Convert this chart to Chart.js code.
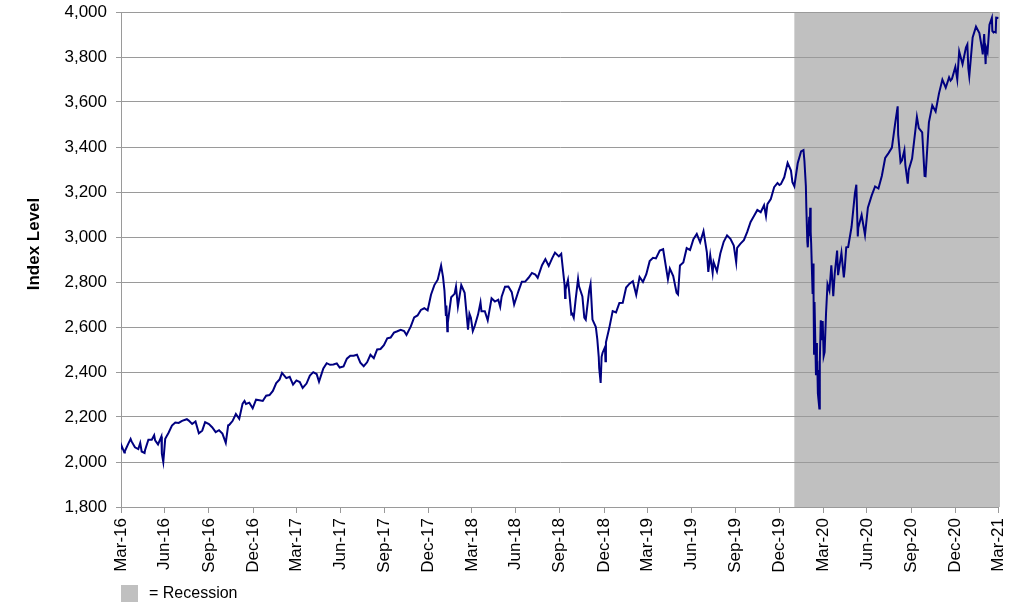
<!DOCTYPE html>
<html>
<head>
<meta charset="utf-8">
<title>Index Level</title>
<script src="https://cdn.jsdelivr.net/npm/chart.js@4.4.1/dist/chart.umd.min.js"></script>
<style>
  html, body { margin: 0; padding: 0; background: #fff; }
  canvas { display: block; }
</style>
</head>
<body>
<canvas id="chart" width="1024" height="616"></canvas>
<script>
// closing levels (weekly-ish, more points where it moves fast)
const dates = [
  '2016-03-31','2016-04-01','2016-04-07','2016-04-08','2016-04-15','2016-04-20','2016-04-22','2016-04-29',
  '2016-05-06','2016-05-10','2016-05-13','2016-05-19','2016-05-20','2016-05-27','2016-06-03','2016-06-08',
  '2016-06-10','2016-06-16','2016-06-23','2016-06-24','2016-06-27','2016-07-01','2016-07-08','2016-07-15',
  '2016-07-22','2016-07-29','2016-08-05','2016-08-15','2016-08-19','2016-08-26','2016-09-02','2016-09-09',
  '2016-09-16','2016-09-22','2016-09-30','2016-10-07','2016-10-14','2016-10-21','2016-10-28','2016-11-04',
  '2016-11-09','2016-11-11','2016-11-18','2016-11-25','2016-12-02','2016-12-09','2016-12-13','2016-12-16',
  '2016-12-23','2016-12-30',
  '2017-01-06','2017-01-13','2017-01-20','2017-01-27','2017-02-03','2017-02-10','2017-02-17','2017-02-24',
  '2017-03-01','2017-03-10','2017-03-17','2017-03-24','2017-03-31','2017-04-07','2017-04-13','2017-04-21',
  '2017-04-28','2017-05-05','2017-05-12','2017-05-17','2017-05-26','2017-06-02','2017-06-09','2017-06-16',
  '2017-06-23','2017-06-29','2017-07-07','2017-07-14','2017-07-21','2017-07-28','2017-08-04','2017-08-11',
  '2017-08-18','2017-08-25','2017-09-01','2017-09-08','2017-09-15','2017-09-22','2017-09-29','2017-10-06',
  '2017-10-13','2017-10-20','2017-10-27','2017-11-03','2017-11-10','2017-11-15','2017-11-24','2017-12-01',
  '2017-12-08','2017-12-15','2017-12-22','2017-12-29',
  '2018-01-05','2018-01-12','2018-01-19','2018-01-26','2018-01-30','2018-02-02','2018-02-05','2018-02-06',
  '2018-02-08','2018-02-09','2018-02-16','2018-02-23','2018-02-26','2018-03-02','2018-03-09','2018-03-16',
  '2018-03-23','2018-03-26','2018-03-29','2018-04-02','2018-04-06','2018-04-13','2018-04-18','2018-04-20',
  '2018-04-27','2018-05-03','2018-05-11','2018-05-18','2018-05-25','2018-05-29','2018-06-01','2018-06-08',
  '2018-06-15','2018-06-22','2018-06-27','2018-07-06','2018-07-13','2018-07-20','2018-07-27','2018-08-03',
  '2018-08-10','2018-08-15','2018-08-24','2018-08-31','2018-09-07','2018-09-14','2018-09-20','2018-09-28',
  '2018-10-03','2018-10-05','2018-10-10','2018-10-11','2018-10-12','2018-10-17','2018-10-19','2018-10-24',
  '2018-10-26','2018-10-29','2018-11-02','2018-11-07','2018-11-09','2018-11-16','2018-11-20','2018-11-23',
  '2018-11-30','2018-12-03','2018-12-07','2018-12-14','2018-12-17','2018-12-20','2018-12-21','2018-12-24',
  '2018-12-26','2018-12-28',
  '2019-01-02','2019-01-03','2019-01-04','2019-01-11','2019-01-18','2019-01-25','2019-02-01','2019-02-08',
  '2019-02-15','2019-02-22','2019-03-01','2019-03-08','2019-03-15','2019-03-22','2019-03-29','2019-04-05',
  '2019-04-12','2019-04-18','2019-04-26','2019-05-03','2019-05-13','2019-05-17','2019-05-24','2019-05-31',
  '2019-06-03','2019-06-07','2019-06-14','2019-06-21','2019-06-28','2019-07-05','2019-07-12','2019-07-19',
  '2019-07-26','2019-08-02','2019-08-05','2019-08-09','2019-08-14','2019-08-16','2019-08-23','2019-08-30',
  '2019-09-06','2019-09-13','2019-09-20','2019-09-27','2019-10-02','2019-10-04','2019-10-11','2019-10-18',
  '2019-10-25','2019-11-01','2019-11-08','2019-11-15','2019-11-22','2019-11-29','2019-12-03','2019-12-06',
  '2019-12-13','2019-12-20','2019-12-27','2019-12-31',
  '2020-01-03','2020-01-10','2020-01-17','2020-01-24','2020-01-27','2020-01-31','2020-02-07','2020-02-14',
  '2020-02-19','2020-02-21','2020-02-24','2020-02-25','2020-02-27','2020-02-28','2020-03-02','2020-03-03',
  '2020-03-04','2020-03-05','2020-03-06','2020-03-09','2020-03-10','2020-03-11','2020-03-12','2020-03-13',
  '2020-03-16','2020-03-17','2020-03-18','2020-03-19','2020-03-20','2020-03-23','2020-03-24','2020-03-26',
  '2020-03-27','2020-03-30','2020-04-01','2020-04-03','2020-04-06','2020-04-09','2020-04-13','2020-04-17',
  '2020-04-21','2020-04-24','2020-04-29','2020-05-01','2020-05-08','2020-05-13','2020-05-15','2020-05-18',
  '2020-05-22','2020-05-29','2020-06-05','2020-06-08','2020-06-11','2020-06-12','2020-06-19','2020-06-26',
  '2020-07-02','2020-07-10','2020-07-17','2020-07-24','2020-07-31','2020-08-07','2020-08-14','2020-08-21',
  '2020-08-28','2020-09-02','2020-09-03','2020-09-08','2020-09-11','2020-09-16','2020-09-18','2020-09-23',
  '2020-09-25','2020-10-02','2020-10-09','2020-10-12','2020-10-16','2020-10-23','2020-10-28','2020-10-30',
  '2020-11-04','2020-11-06','2020-11-13','2020-11-20','2020-11-27','2020-12-04','2020-12-11','2020-12-18',
  '2020-12-21','2020-12-24','2020-12-31',
  '2021-01-04','2021-01-08','2021-01-15','2021-01-22','2021-01-25','2021-01-27','2021-01-29','2021-02-05',
  '2021-02-12','2021-02-19','2021-02-25','2021-02-26','2021-03-01','2021-03-04','2021-03-05','2021-03-08',
  '2021-03-12','2021-03-17','2021-03-18','2021-03-19','2021-03-25','2021-03-26','2021-03-31'
];

const closes = [
  2059.74,2072.78,2041.91,2047.60,2080.73,2102.40,2091.58,2065.30,
  2057.14,2084.39,2046.61,2040.04,2052.32,2099.06,2099.13,2119.12,
  2096.07,2077.99,2113.32,2037.41,2000.54,2102.95,2129.90,2161.74,
  2175.03,2173.60,2182.87,2190.15,2183.87,2169.04,2179.98,2127.81,
  2139.16,2177.18,2168.27,2153.74,2132.98,2141.16,2126.41,2085.18,
  2163.26,2164.45,2181.90,2213.35,2191.95,2259.53,2271.72,2258.07,
  2263.79,2238.83,
  2276.98,2274.64,2271.31,2294.69,2297.42,2316.10,2351.16,2367.34,
  2395.96,2372.60,2378.25,2343.98,2362.72,2355.54,2328.95,2348.69,
  2384.20,2399.29,2390.90,2357.03,2415.82,2439.07,2431.77,2433.15,
  2438.30,2419.70,2425.18,2459.27,2472.54,2472.10,2476.83,2441.32,
  2425.55,2443.05,2476.55,2461.43,2500.23,2502.22,2519.36,2549.33,
  2553.17,2575.21,2581.07,2587.84,2582.30,2564.62,2602.42,2642.22,
  2651.50,2675.81,2683.34,2673.61,
  2743.15,2786.24,2810.30,2872.87,2822.43,2762.13,2648.94,2695.14,
  2581.00,2619.55,2732.22,2747.30,2779.60,2691.25,2786.57,2752.01,
  2588.26,2658.55,2640.87,2581.88,2604.47,2656.30,2708.64,2670.14,
  2669.91,2629.73,2727.72,2712.97,2721.33,2689.86,2734.62,2779.03,
  2779.66,2754.88,2699.63,2759.82,2801.31,2801.83,2818.82,2840.35,
  2833.28,2818.37,2874.69,2901.52,2871.68,2904.98,2930.75,2913.98,
  2925.51,2885.57,2785.68,2728.37,2767.13,2809.21,2767.78,2656.10,
  2658.69,2641.25,2723.06,2813.89,2781.01,2736.27,2641.89,2632.56,
  2760.17,2790.37,2633.08,2599.95,2545.94,2467.42,2416.62,2351.10,
  2467.70,2485.74,
  2510.03,2447.89,2531.94,2596.26,2670.71,2664.76,2706.53,2707.88,
  2775.60,2792.67,2803.69,2743.07,2822.48,2800.71,2834.40,2892.74,
  2907.41,2905.03,2939.88,2945.64,2811.87,2859.53,2826.06,2752.06,
  2744.45,2873.34,2886.98,2950.46,2941.76,2990.41,3013.77,2976.61,
  3025.86,2932.05,2844.74,2918.65,2840.60,2888.68,2847.11,2926.46,
  2978.71,3007.39,2992.07,2961.79,2887.61,2952.01,2970.27,2986.20,
  3022.55,3066.91,3093.08,3120.46,3110.29,3140.98,3093.20,3145.91,
  3168.80,3221.22,3240.02,3230.78,
  3234.85,3265.35,3329.62,3295.47,3243.63,3225.52,3327.71,3380.16,
  3386.15,3337.75,3225.89,3128.21,2978.76,2954.22,3090.23,3003.37,
  3130.12,3023.94,2972.37,2746.56,2882.23,2741.38,2480.64,2711.02,
  2386.13,2529.19,2398.10,2409.39,2304.92,2237.40,2447.33,2630.07,
  2541.47,2626.65,2470.50,2488.65,2663.68,2789.82,2761.63,2874.56,
  2736.56,2836.74,2939.51,2830.71,2929.80,2820.00,2863.70,2953.91,
  2955.45,3044.31,3193.93,3232.39,3002.10,3041.31,3097.74,3009.05,
  3130.01,3185.04,3224.73,3215.63,3271.12,3351.28,3372.85,3397.16,
  3508.01,3580.84,3455.06,3331.84,3340.97,3385.49,3319.47,3236.92,
  3298.46,3348.44,3477.13,3534.22,3483.81,3465.39,3271.03,3269.96,
  3443.44,3509.44,3585.15,3557.54,3638.35,3699.12,3663.46,3709.41,
  3694.92,3703.06,3756.07,
  3700.65,3824.68,3768.25,3841.47,3855.36,3750.77,3714.24,3886.83,
  3934.83,3906.71,3829.34,3811.15,3901.82,3768.47,3841.94,3821.35,
  3943.34,3974.12,3915.46,3913.10,3909.52,3974.54,3972.89
];

// quarterly tick labels (month ends)
const tickLabels = [
  'Mar-16','Jun-16','Sep-16','Dec-16','Mar-17','Jun-17','Sep-17','Dec-17',
  'Mar-18','Jun-18','Sep-18','Dec-18','Mar-19','Jun-19','Sep-19','Dec-19',
  'Mar-20','Jun-20','Sep-20','Dec-20','Mar-21'
];
const yTicks = [1800, 2000, 2200, 2400, 2600, 2800, 3000, 3200, 3400, 3600, 3800, 4000];

const recession = ['2020-01-31', '2021-03-31'];

const DAY = 86400000;
const origin = Date.UTC(2016, 2, 31);
function dayNum(s) {
  const p = s.split('-').map(Number);
  return (Date.UTC(p[0], p[1] - 1, p[2]) - origin) / DAY;
}
const months = { Mar: 3, Jun: 6, Sep: 9, Dec: 12 };
// label like 'Jun-16' -> day number of the last day of that month
function labelDay(l) {
  const [m, y] = l.split('-');
  return (Date.UTC(2000 + Number(y), months[m], 0) - origin) / DAY;
}

const points = dates.map((d, i) => ({ x: dayNum(d), y: closes[i] }));
const tickPos = tickLabels.map(labelDay);

const FONT = 'Arial, "Liberation Sans", sans-serif';
const gridGray = '#9a9a9a';

const extras = {
  id: 'extras',
  beforeDraw(chart) {
    const { ctx, chartArea, scales } = chart;
    const x0 = scales.x.getPixelForValue(dayNum(recession[0]));
    const x1 = scales.x.getPixelForValue(dayNum(recession[1]));
    ctx.save();
    ctx.fillStyle = '#c0c0c0';
    ctx.fillRect(x0, chartArea.top, x1 - x0, chartArea.bottom - chartArea.top);
    ctx.restore();
  },
  beforeDatasetsDraw(chart) {
    const { ctx, chartArea } = chart;
    ctx.save();
    ctx.strokeStyle = gridGray;
    ctx.lineWidth = 1;
    ctx.beginPath();
    ctx.moveTo(chartArea.right + 0.5, chartArea.top);
    ctx.lineTo(chartArea.right + 0.5, chartArea.bottom);
    ctx.stroke();
    ctx.restore();
  },
  afterDraw(chart) {
    const ctx = chart.ctx;
    ctx.save();
    // axis title
    ctx.translate(34, 244);
    ctx.rotate(-Math.PI / 2);
    ctx.fillStyle = '#000';
    ctx.font = 'bold 17px ' + FONT;
    ctx.textAlign = 'center';
    ctx.textBaseline = 'middle';
    ctx.fillText('Index Level', 0, 0);
    ctx.restore();

    // legend
    ctx.save();
    ctx.fillStyle = '#c0c0c0';
    ctx.fillRect(121, 585, 17, 17);
    ctx.fillStyle = '#000';
    ctx.font = '16px ' + FONT;
    ctx.textBaseline = 'middle';
    ctx.fillText('= Recession', 149, 594);
    ctx.restore();
  }
};

new Chart(document.getElementById('chart'), {
  type: 'line',
  data: {
    datasets: [{
      label: 'Index Level',
      data: points,
      borderColor: '#000080',
      borderWidth: 2,
      pointRadius: 0,
      tension: 0,
      fill: false
    }]
  },
  options: {
    responsive: false,
    animation: false,
    layout: { padding: { top: 12, right: 24, bottom: 0, left: 0 } },
    plugins: {
      legend: { display: false },
      tooltip: { enabled: false }
    },
    scales: {
      x: {
        type: 'linear',
        min: 0,
        max: labelDay('Mar-21'),
        afterBuildTicks: (scale) => { scale.ticks = tickPos.map(v => ({ value: v })); },
        afterFit: (scale) => { scale.height = 109; },
        ticks: {
          autoSkip: false,
          minRotation: 90,
          maxRotation: 90,
          padding: 5,
          color: '#000',
          font: { family: FONT, size: 17 },
          callback: (v, i) => tickLabels[i]
        },
        grid: { drawOnChartArea: false, drawTicks: true, tickLength: 6, color: gridGray },
        border: { color: gridGray }
      },
      y: {
        min: 1800,
        max: 4000,
        afterBuildTicks: (scale) => { scale.ticks = yTicks.map(v => ({ value: v })); },
        afterFit: (scale) => {
          scale.width = 121;
          scale.paddingTop = 0;
          scale.paddingBottom = 0;
        },
        ticks: {
          padding: 9,
          color: '#000',
          font: { family: FONT, size: 17 },
          callback: (v) => v.toLocaleString('en-US')
        },
        grid: { color: gridGray, tickLength: 5 },
        border: { color: gridGray }
      }
    }
  },
  plugins: [extras]
});
</script>
</body>
</html>
